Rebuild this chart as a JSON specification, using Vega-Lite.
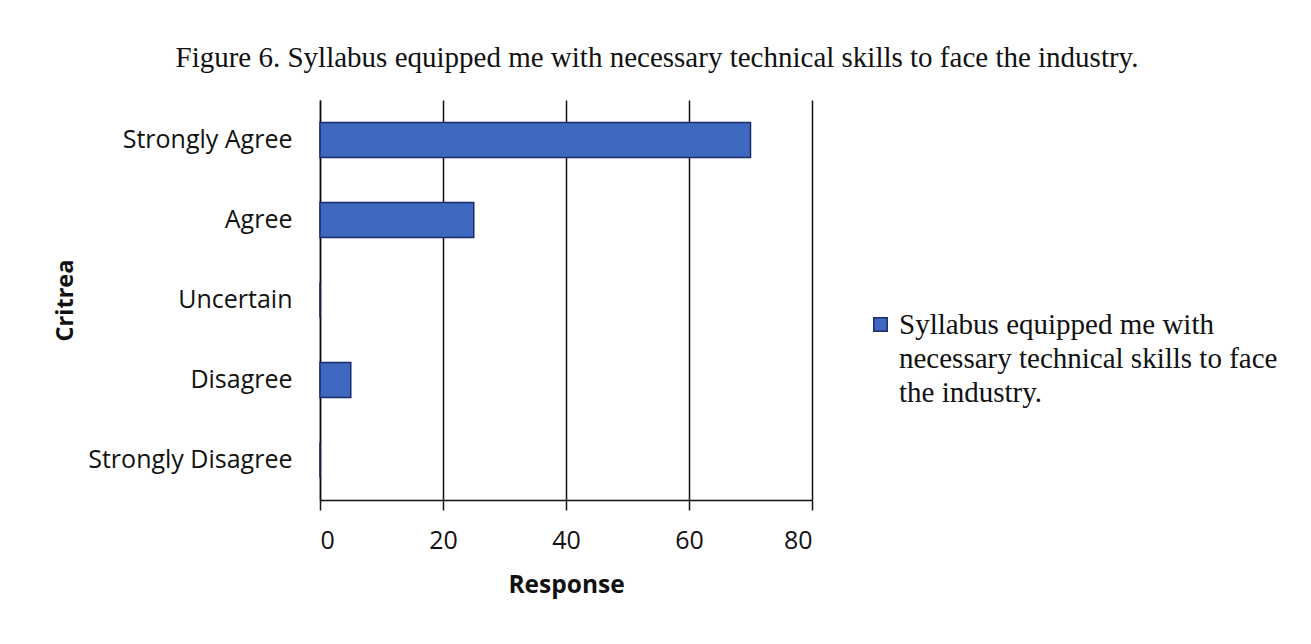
{
  "$schema": "https://vega.github.io/schema/vega-lite/v6.json",
  "width": 492,
  "height": 400,
  "autosize": {"type": "none"},
  "padding": {"left": 320, "top": 100, "right": 499, "bottom": 144},
  "background": "white",
  "title": {
    "text": "Figure 6. Syllabus equipped me with necessary technical skills to face the industry.",
    "font": "Liberation Serif",
    "fontSize": 29,
    "fontWeight": "normal",
    "color": "#111",
    "anchor": "middle",
    "dx": 91,
    "offset": 27
  },
  "data": {
    "values": [
      {"criteria": "Strongly Agree", "response": 70, "series": "Syllabus equipped me with necessary technical skills to face the industry."},
      {"criteria": "Agree", "response": 25, "series": "Syllabus equipped me with necessary technical skills to face the industry."},
      {"criteria": "Uncertain", "response": 0, "series": "Syllabus equipped me with necessary technical skills to face the industry."},
      {"criteria": "Disagree", "response": 5, "series": "Syllabus equipped me with necessary technical skills to face the industry."},
      {"criteria": "Strongly Disagree", "response": 0, "series": "Syllabus equipped me with necessary technical skills to face the industry."}
    ]
  },
  "mark": {"type": "bar", "stroke": "#1a2a6a", "strokeWidth": 1.5},
  "encoding": {
    "y": {
      "field": "criteria",
      "type": "nominal",
      "sort": ["Strongly Agree", "Agree", "Uncertain", "Disagree", "Strongly Disagree"],
      "scale": {"paddingInner": 0.56, "paddingOuter": 0.28},
      "axis": {
        "title": "Critrea",
        "titleFont": "Open Sans",
        "titleFontSize": 23.5,
        "titleFontWeight": "bold",
        "titleColor": "#111",
        "titleX": -255,
        "titleY": 200,
        "titleAngle": -90,
        "titleAlign": "center",
        "titleBaseline": "middle",
        "labelFont": "Open Sans",
        "labelFontSize": 25,
        "labelColor": "#111",
        "labelPadding": 28,
        "labelLimit": 320,
        "ticks": false,
        "domain": true,
        "domainColor": "#111",
        "domainWidth": 1.5,
        "grid": false
      }
    },
    "x": {
      "field": "response",
      "type": "quantitative",
      "scale": {"domain": [0, 80]},
      "axis": {
        "title": "Response",
        "titleFont": "Open Sans",
        "titleFontSize": 24.5,
        "titleFontWeight": "bold",
        "titleColor": "#111",
        "titlePadding": 20,
        "values": [0, 20, 40, 60, 80],
        "labelFont": "Open Sans",
        "labelFontSize": 25,
        "labelColor": "#111",
        "labelPadding": 18,
        "tickSize": 10,
        "tickColor": "#111",
        "tickWidth": 1.5,
        "domainColor": "#111",
        "domainWidth": 1.5,
        "grid": true,
        "gridColor": "#111",
        "gridWidth": 1.5
      }
    },
    "color": {
      "field": "series",
      "type": "nominal",
      "scale": {"range": ["#3f68c0"]},
      "legend": {
        "title": null,
        "orient": "none",
        "legendX": 546,
        "legendY": 210,
        "symbolType": "square",
        "symbolSize": 180,
        "symbolStrokeColor": "#1a2a6a",
        "symbolStrokeWidth": 1.5,
        "labelFont": "Liberation Serif",
        "labelFontSize": 29,
        "labelColor": "#111",
        "labelLimit": 600,
        "labelOffset": 4,
        "labelExpr": "['Syllabus equipped me with', 'necessary technical skills to face', 'the industry.']"
      }
    }
  },
  "config": {
    "view": {"stroke": null},
    "style": {"guide-label": {"lineHeight": 34}}
  }
}
